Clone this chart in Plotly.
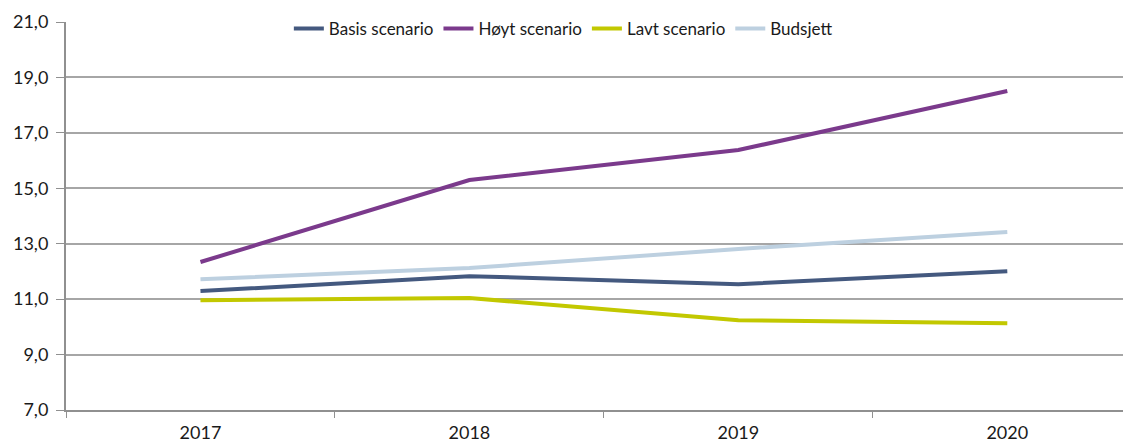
import plotly.graph_objects as go

years = ["2017", "2018", "2019", "2020"]
basis = [11.29, 11.83, 11.54, 12.01]
hoyt = [12.34, 15.30, 16.38, 18.51]
lavt = [10.96, 11.04, 10.24, 10.13]
budsjett = [11.72, 12.12, 12.81, 13.42]

names = ["Basis scenario", "Høyt scenario", "Lavt scenario", "Budsjett"]
colors = ["#44597f", "#7b3a8c", "#c2c800", "#bdd0e0"]
series = [basis, hoyt, lavt, budsjett]

fig = go.Figure()
for n, c, s in zip(names, colors, series):
    fig.add_trace(go.Scatter(x=years, y=s, name=n, mode="lines",
                             line=dict(color=c, width=4)))

fig.update_layout(
    width=1123, height=435,
    margin=dict(l=58, r=0, t=14, b=33, autoexpand=False),
    plot_bgcolor="white", paper_bgcolor="white",
    font=dict(family="Lato, Open Sans, sans-serif", size=18, color="#1a1a1a"),
    showlegend=True,
    legend=dict(orientation="h", x=0.467, xanchor="center", y=0.982, yanchor="middle",
                font=dict(size=17), bgcolor="rgba(0,0,0,0)", itemwidth=30,
                tracegroupgap=0),
    xaxis=dict(type="category", range=[-0.5, 3.46], showgrid=False, automargin=False,
               showline=True, linecolor="#909090", linewidth=2,
               ticks="outside", tickson="boundaries", ticklen=6, tickcolor="#909090",
               ticklabelstandoff=5, tickfont=dict(size=18)),
    yaxis=dict(range=[7, 21], tick0=7, dtick=2, tickformat=".1f", automargin=False,
               showgrid=True, gridcolor="#a6a6a6", gridwidth=1.5,
               showline=True, linecolor="#909090", linewidth=2,
               ticks="outside", ticklen=8, tickcolor="#909090", ticklabelstandoff=4,
               tickfont=dict(size=18), zeroline=False),
    separators=",.",
)

fig.write_html("out.html")
